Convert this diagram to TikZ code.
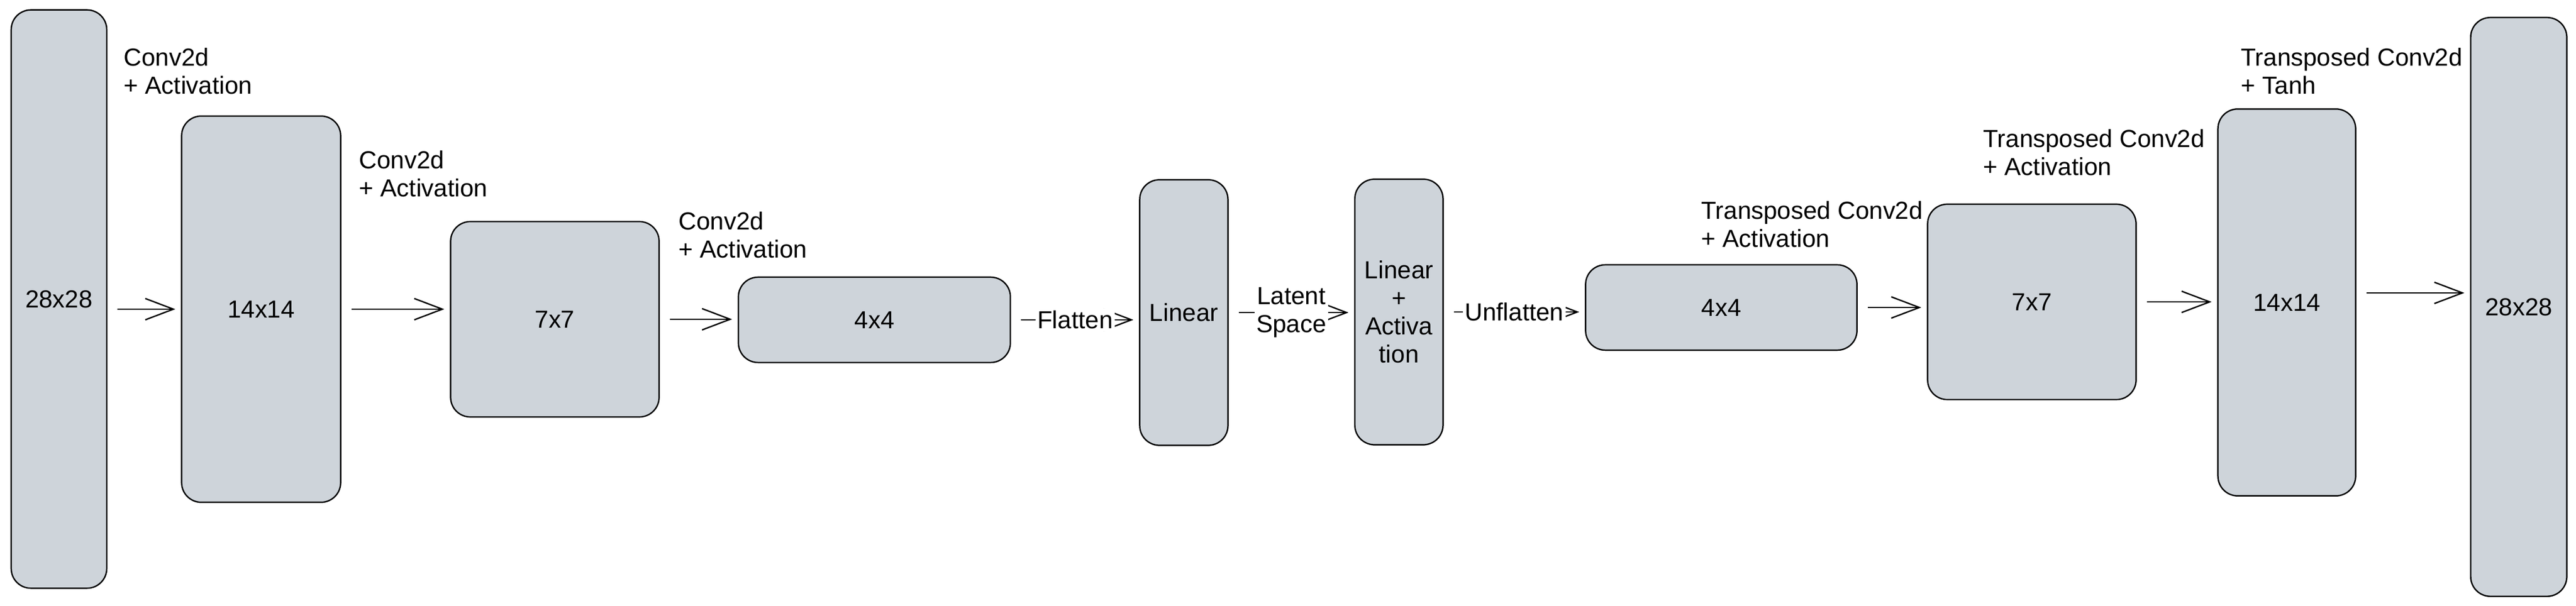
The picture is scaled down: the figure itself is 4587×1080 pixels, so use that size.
\documentclass[tikz,border=0pt]{standalone}
\usepackage{fontspec}
\setmainfont{Liberation Sans}
\usetikzlibrary{arrows.meta}
\definecolor{boxgray}{HTML}{CED4DA}

\begin{document}
\begin{tikzpicture}[x=0.01cm, y=-0.01cm,
    font=\fontsize{12.5}{14.2}\selectfont,
    layer/.style={draw, fill=boxgray, line width=0.7pt, rounded corners=0.35cm, align=center, inner sep=0pt},
    lbl/.style={align=left, anchor=west, inner sep=0pt},
    arr/.style={-{Straight Barb[length=0.5cm, width=0.38cm]}, line width=0.7pt, shorten <=0.18cm, shorten >=0.1cm}]
  \useasboundingbox (0,0) rectangle (4587,1080);

  % Encoder
  \node[layer, minimum width=1.70cm, minimum height=10.30cm] (in28) at (105,533) {28x28};
  \node[layer, minimum width=2.83cm, minimum height=6.88cm] (e14) at (465,551) {14x14};
  \node[layer, minimum width=3.71cm, minimum height=3.48cm] (e7) at (988,569) {7x7};
  \node[layer, minimum width=4.84cm, minimum height=1.52cm] (e4) at (1557,570) {4x4};
  \node[lbl] (c1) at (220,127) {Conv2d\\+ Activation};
  \node[lbl] (c2) at (639,310) {Conv2d\\+ Activation};
  \node[lbl] (c3) at (1208,419) {Conv2d\\+ Activation};

  % Bottleneck
  \node[layer, minimum width=1.57cm, minimum height=4.73cm] (lin) at (2108,557) {Linear};
  \node[layer, minimum width=1.57cm, minimum height=4.73cm] (linact) at (2491,556) {Linear\\+\\Activa\\tion};

  % Decoder
  \node[layer, minimum width=4.83cm, minimum height=1.52cm] (d4) at (3065,548) {4x4};
  \node[layer, minimum width=3.71cm, minimum height=3.48cm] (d7) at (3618,538) {7x7};
  \node[layer, minimum width=2.45cm, minimum height=6.89cm] (d14) at (4072,539) {14x14};
  \node[layer, minimum width=1.71cm, minimum height=10.31cm] (out28) at (4485,547) {28x28};
  \node[lbl] (t1) at (3029,400) {Transposed Conv2d\\+ Activation};
  \node[lbl] (t2) at (3531,272) {Transposed Conv2d\\+ Activation};
  \node[lbl] (t3) at (3990,127) {Transposed Conv2d\\+ Tanh};

  % Arrows
  \draw[arr] (in28.east |- e14.west) -- (e14.west);
  \draw[arr] (e14.east) -- (e14.east -| e7.west);
  \draw[arr] (e7.east) -- (e7.east -| e4.west);
  \draw[arr] (e4.east) -- node[fill=white, inner sep=1pt] (fl) {Flatten} (e4.east -| lin.west);
  \draw[arr] (lin.east) -- node[fill=white, inner sep=1pt, align=center] (ls) {Latent\\Space} (lin.east -| linact.west);
  \draw[arr] (linact.east) -- node[fill=white, inner sep=1pt] (ufl) {Unflatten} (linact.east -| d4.west);
  \draw[arr] (d4.east) -- (d4.east -| d7.west);
  \draw[arr] (d7.east) -- (d7.east -| d14.west);
  \draw[arr] ([yshift=0.17cm]d14.east) -- ([yshift=0.17cm]d14.east -| out28.west);
\end{tikzpicture}
\end{document}
